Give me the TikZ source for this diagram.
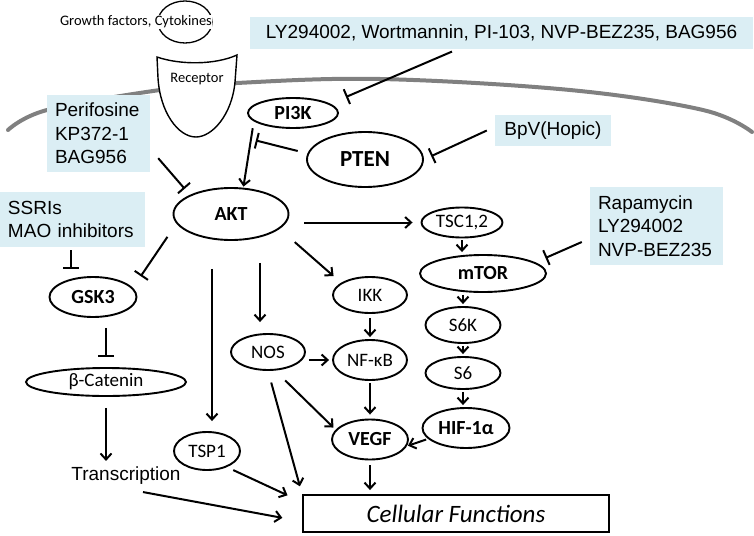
\documentclass[tikz,border=0pt]{standalone}
\usepackage{fontspec}
\setmainfont{Carlito}
\newfontfamily\arialfont{Liberation Sans}
\usetikzlibrary{arrows.meta,shapes.geometric}
\definecolor{drugblue}{RGB}{219,238,244}
\definecolor{membranegray}{RGB}{128,128,128}
\begin{document}
\begin{tikzpicture} [x=1pt,y=-1pt,
	mol/.style={ellipse,draw,line width=1.9pt,inner sep=0pt,font=\fontsize{19}{22}\selectfont},
	molb/.style={mol,font=\fontsize{20}{24}\selectfont\bfseries},
	drug/.style={fill=drugblue,inner xsep=8pt,inner ysep=2pt,align=left,font=\arialfont\fontsize{19}{23.5}\selectfont},
	act/.style={line width=2pt,-{Straight Barb[length=6pt,width=11pt,line width=2pt]}},
	inh/.style={line width=2pt,-{Bar[width=16pt,line width=2pt]}}]
		\useasboundingbox (0,0) rectangle (754,535);
		\draw [membranegray,line width=4pt,line cap=round] plot [smooth,tension=0.6] coordinates {(8,130) (47,110) (160,90) (237,83) (380,79) (570,90) (703,110) (752,132)};
		\node [ellipse,draw,line width=1.3pt,minimum width=54pt,minimum height=42pt] (ligand) at (185,22) {};
		\node [fill=white,inner sep=0.5pt,font=\fontsize{14.5}{16}\selectfont] (growth) at (136,22) {Growth factors, Cytokines};
		\draw [line width=1.4pt,fill=white] (157,57) .. controls (180,65) and (215,65) .. (237,55) -- (235,82) .. controls (232,115) and (212,137) .. (196,137) .. controls (178,137) and (160,112) .. (158,78) -- cycle;
		\node [font=\fontsize{14.5}{16}\selectfont] (receptor) at (197,79) {Receptor};
		\node [drug,minimum width=503pt,minimum height=32pt,align=center] (ly) at (501.5,33) {LY294002, Wortmannin, PI-103, NVP-BEZ235, BAG956};
		\node [drug,text width=87pt,minimum height=77pt] (peri) at (98.5,133.5) {Perifosine\\KP372-1\\BAG956};
		\node [drug,text width=129pt,minimum height=55pt] (ssri) at (72.5,219.5) {SSRIs\\MAO inhibitors};
		\node [drug,minimum width=116pt,minimum height=31pt] (bpv) at (553,130.5) {BpV(Hopic)};
		\node [drug,text width=117pt,minimum height=78pt] (rapa) at (656.5,226) {Rapamycin\\LY294002\\NVP-BEZ235};
		\node [molb,minimum width=90pt,minimum height=30pt] (pi3k) at (293,113) {PI3K};
		\node [molb,font=\fontsize{23}{27}\selectfont\bfseries,minimum width=116pt,minimum height=55pt] (pten) at (365,159.5) {PTEN};
		\node [molb,minimum width=115pt,minimum height=52pt] (akt) at (231,214) {AKT};
		\node [molb,minimum width=87pt,minimum height=40pt] (gsk3) at (93,297) {GSK3};
		\node [mol,minimum width=160pt,minimum height=28pt] (bcat) at (106,382) {β-Catenin};
		\node [font=\arialfont\fontsize{19}{22}\selectfont,inner sep=3pt] (trans) at (126,476) {Transcription};
		\node [mol,minimum width=66pt,minimum height=38pt] (tsp1) at (207,451) {TSP1};
		\node [mol,minimum width=74pt,minimum height=36pt] (nos) at (268,352) {NOS};
		\node [mol,minimum width=74pt,minimum height=36pt] (ikk) at (370,295) {IKK};
		\node [mol,minimum width=74pt,minimum height=40pt] (nfkb) at (370,360) {NF-κB};
		\node [molb,minimum width=76pt,minimum height=40pt] (vegf) at (370,439.5) {VEGF};
		\node [mol,minimum width=81pt,minimum height=30pt] (tsc) at (462,222.5) {TSC1,2};
		\node [molb,minimum width=126pt,minimum height=37pt] (mtor) at (483,273.5) {mTOR};
		\node [mol,minimum width=75pt,minimum height=36pt] (s6k) at (463,325) {S6K};
		\node [mol,minimum width=75pt,minimum height=32pt] (s6) at (463,373) {S6};
		\node [molb,minimum width=87pt,minimum height=40pt] (hif) at (466,428) {HIF-1α};
		\node [draw,line width=1.9pt,minimum width=306pt,minimum height=37pt,font=\fontsize{25}{30}\selectfont\itshape] (cell) at (456,513.5) {Cellular Functions};
		\draw [inh,shorten <=6pt,shorten >=17pt] ([xshift=-44pt]ly.south) -- (pi3k.14);
		\draw [act,shorten <=7pt,shorten >=1pt] (pi3k.192) -- coordinate[pos=0.27] (pk) (akt.65);
		\draw [inh,shorten <=10pt,shorten >=5pt] (pten.174) -- (pk);
		\draw [inh,shorten >=8pt] ([xshift=8pt,yshift=14pt]peri.south east) -- (akt.155);
		\draw [inh,shorten >=8pt] ([xshift=-8pt]bpv.west) -- (pten.0);
		\draw [inh,shorten >=11pt] ([xshift=-8pt,yshift=-16pt]rapa.west) -- (mtor.12);
		\draw [act,shorten <=15pt,shorten >=8pt] (akt.east |- tsc.west) -- (tsc.west);
		\draw [act,shorten <=2pt,shorten >=2pt] (tsc.south) -- (tsc.south |- mtor.north);
		\draw [act,shorten <=2pt,shorten >=2pt] (s6k.north |- mtor.south) -- (s6k.north);
		\draw [act,shorten <=2pt,shorten >=2pt] (s6k.south) -- (s6.north);
		\draw [act,shorten <=2pt,shorten >=2pt] (s6.south) -- (s6.south |- hif.north);
		\draw [act,shorten <=2pt,shorten >=1pt] (hif.196) -- (vegf.-10);
		\draw [inh,shorten <=16pt,shorten >=14pt] (akt.190) -- (gsk3.13);
		\draw [inh,shorten <=3pt,shorten >=7pt] ([xshift=-2pt]ssri.south) -- ([xshift=-2pt]ssri.south |- gsk3.north);
		\draw [inh,shorten <=10pt,shorten >=10pt] (bcat.north |- gsk3.south) -- (bcat.north);
		\draw [act,shorten <=11pt,shorten >=3pt] (bcat.south) -- (bcat.south |- trans.north);
		\draw [act,shorten >=20pt] ([xshift=17pt,yshift=-4pt]trans.south) -- ([yshift=-8pt]cell.west);
		\draw [act,shorten <=7pt,shorten >=16pt] (tsp1.-39) -- ([yshift=-8pt]cell.north west);
		\draw [act,shorten <=28pt,shorten >=10pt] ([xshift=5pt]tsp1.north |- akt.south) -- ([xshift=5pt]tsp1.north);
		\draw [act,shorten <=22pt,shorten >=11pt] ([xshift=-8pt]nos.north |- akt.south) -- ([xshift=-8pt]nos.north);
		\draw [act,shorten <=20pt,shorten >=10pt] (akt.-17) -- (ikk.157);
		\draw [act,shorten <=4pt,shorten >=2pt] (ikk.south) -- (nfkb.north);
		\draw [act,shorten <=3pt,shorten >=3pt] (nfkb.west -| nos.east) -- (nfkb.west);
		\draw [act,shorten <=14pt,shorten >=3pt] (nos.-69) -- (vegf.164);
		\draw [act,shorten <=12pt,shorten >=8pt] (nos.south) -- (cell.north west);
		\draw [act,shorten <=2pt,shorten >=4pt] (nfkb.south) -- (vegf.north);
		\draw [act,shorten <=5pt,shorten >=4pt] (vegf.south) -- (vegf.south |- cell.north);
	\end{tikzpicture}
\end{document}
